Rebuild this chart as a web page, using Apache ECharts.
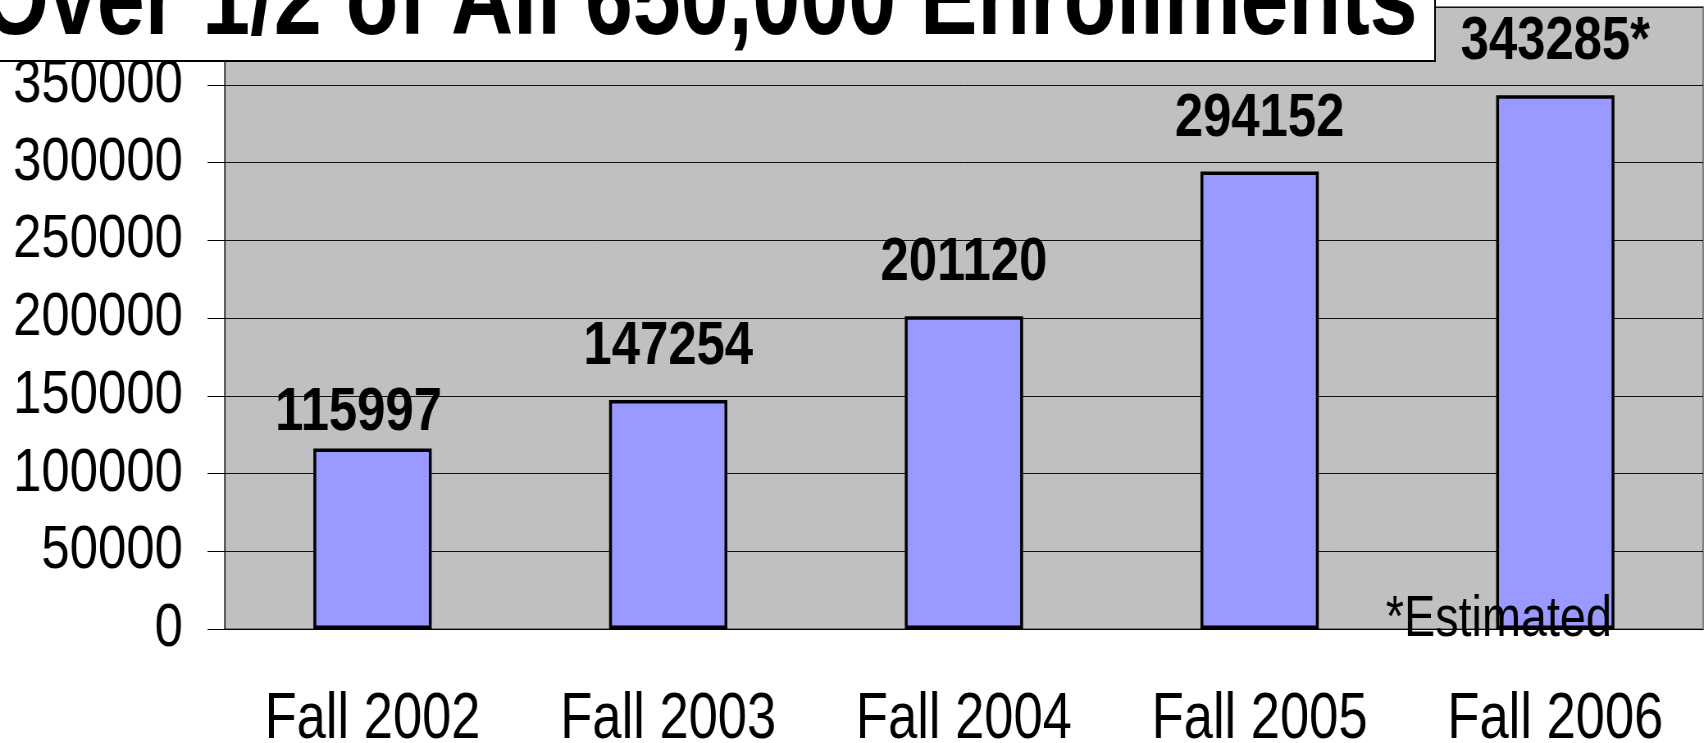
<!DOCTYPE html>
<html>
<head>
<meta charset="utf-8">
<script src="https://cdn.jsdelivr.net/npm/echarts@6/dist/echarts.min.js"></script>
<style>
	html, body { margin: 0; padding: 0; background: #ffffff; overflow: hidden; }
	/* 原图字体是窄体 (Arial Narrow)，这里横向压缩整个图表来模拟 */
	#chart { width: 2078px; height: 743px; transform: scaleX(0.82); transform-origin: 0 0; }
</style>
</head>
<body>
<div id="chart"></div>
<script>
// 数据
let categories = ['Fall 2002', 'Fall 2003', 'Fall 2004', 'Fall 2005', 'Fall 2006'];
let enrollments = [115997, 147254, 201120, 294152, 343285];
let estimated = [false, false, false, false, true];
let yTicks = [0, 50000, 100000, 150000, 200000, 250000, 300000, 350000, 400000];
let titleText = 'Over 1/2 of All 650,000 Enrollments';
let noteText = '*Estimated';

(function() {
	let myChart = echarts.init(document.getElementById('chart'));
	let font = '"Liberation Sans", Arial, sans-serif';

	// 第一个标签在原图中被手动挪低了一点
	let barData = enrollments.map(function(v, i) {
		let item = { value: v };
		if (i === 0) {
			item.label = { distance: 5, offset: [-17, 0] };
		}
		return item;
	});

	let option = {
		animation: false,
		grid: {
			left: 274,
			right: 1,
			top: 7,
			bottom: 114,
			outerBoundsMode: 'none',
			show: true,
			backgroundColor: '#c0c0c0',
			borderColor: '#808080',
			borderWidth: 2
		},
		xAxis: {
			type: 'category',
			data: categories,
			axisLine: {
				lineStyle: { color: '#000000', width: 1 }
			},
			axisTick: {
				length: 20,
				lineStyle: { color: '#555555' }
			},
			axisLabel: {
				interval: 0,
				color: '#000000',
				fontFamily: font,
				fontSize: 64,
				margin: 59
			}
		},
		yAxis: {
			type: 'value',
			min: yTicks[0],
			max: yTicks[yTicks.length - 1],
			interval: yTicks[1] - yTicks[0],
			axisLine: {
				show: true,
				lineStyle: { color: '#000000', width: 1 }
			},
			axisTick: {
				show: true,
				length: 21,
				lineStyle: { color: '#000000' }
			},
			axisLabel: {
				color: '#000000',
				fontFamily: font,
				fontSize: 62,
				margin: 51,
				formatter: function(v) {
					return String(v);
				}
			},
			splitLine: {
				lineStyle: { color: '#111111', width: 1 }
			}
		},
		series: [
			{
				type: 'bar',
				barWidth: '40%',
				itemStyle: {
					color: '#9999ff',
					borderColor: '#000000',
					borderWidth: 3.5
				},
				label: {
					show: true,
					position: 'top',
					distance: 22,
					color: '#000000',
					fontFamily: font,
					fontWeight: 'bold',
					fontSize: 62,
					formatter: function(p) {
						return p.value + (estimated[p.dataIndex] ? '*' : '');
					}
				},
				data: barData
			}
		],
		graphic: [
			{
				type: 'rect',
				z: 100,
				shape: { x: -12, y: -10, width: 1762, height: 71 },
				style: { fill: '#ffffff', stroke: '#000000', lineWidth: 2 }
			},
			{
				type: 'text',
				z: 101,
				x: -22,
				y: 5,
				style: {
					text: titleText,
					fill: '#000000',
					fontFamily: font,
					fontWeight: 'bold',
					fontSize: 105,
					align: 'left',
					verticalAlign: 'middle'
				}
			},
			{
				type: 'text',
				z: 101,
				x: 1690,
				y: 620,
				style: {
					text: noteText,
					fill: '#000000',
					fontFamily: font,
					fontSize: 57,
					align: 'left',
					verticalAlign: 'middle'
				}
			}
		]
	};

	myChart.setOption(option);

	window.addEventListener('resize', function() {
		myChart.resize();
	});
})();
</script>
</body>
</html>
